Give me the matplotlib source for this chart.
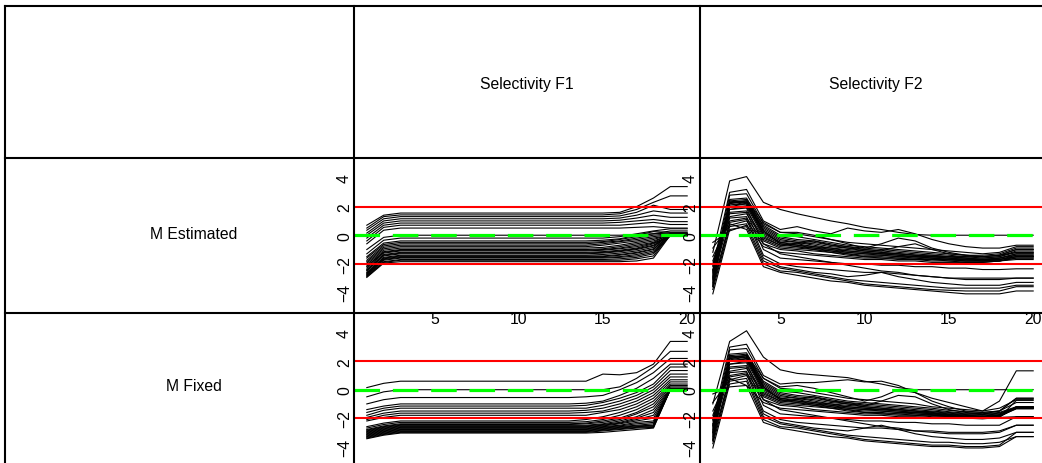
import matplotlib
matplotlib.use("Agg")
import matplotlib.pyplot as plt

plt.rcParams['font.family'] = ['Liberation Sans', 'DejaVu Sans']

W, H = 1042, 464

ages = list(range(1, 21))
col_titles = ["Selectivity F1", "Selectivity F2"]
row_titles = ["M Estimated", "M Fixed"]
y_ticks = [-4, -2, 0, 2, 4]
x_ticks = [5, 10, 15, 20]
ref_lines = [-2, 2]
zero_line = 0

# Selectivity F1: value at age 1, age 2, the flat level for ages 3-13, then ages 14-20
f1_est_start = [0.7, 0.5, 0.35, 0.15, 0.0, -0.2, -0.4, -0.6, -1.0,
                -1.3, -1.5, -1.6, -1.75, -1.85, -1.95, -2.05, -2.15, -2.2, -2.3, -2.4,
                -2.45, -2.5, -2.6, -2.65, -2.7, -2.75, -2.8, -2.85, -2.9, -2.95]
f1_est_knee = [1.4, 1.3, 1.15, 1.0, 0.85, 0.7, 0.55, 0.35, -0.15,
               -0.35, -0.55, -0.65, -0.75, -0.85, -0.95, -1.05, -1.15, -1.2, -1.25, -1.35,
               -1.4, -1.45, -1.55, -1.6, -1.65, -1.7, -1.75, -1.85, -1.9, -1.95]
f1_est_flat = [1.55, 1.42, 1.3, 1.15, 1.0, 0.85, 0.7, 0.5, 0.0,
               -0.2, -0.4, -0.5, -0.6, -0.7, -0.8, -0.9, -1.0, -1.05, -1.1, -1.2,
               -1.25, -1.3, -1.4, -1.45, -1.5, -1.55, -1.6, -1.7, -1.75, -1.85]
f1_est_tail = [
    [1.55, 1.55, 1.6, 2.0, 2.6, 3.4, 3.4],
    [1.42, 1.42, 1.5, 1.8, 2.3, 2.75, 2.75],
    [1.3, 1.3, 1.35, 1.6, 2.1, 1.8, 1.8],
    [1.15, 1.15, 1.2, 1.4, 1.7, 1.55, 1.55],
    [1.0, 1.0, 1.05, 1.2, 1.4, 1.25, 1.25],
    [0.85, 0.85, 0.9, 1.0, 1.1, 0.95, 0.95],
    [0.7, 0.7, 0.7, 0.8, 0.9, 0.75, 0.75],
    [0.5, 0.5, 0.5, 0.55, 0.6, 0.5, 0.5],
    [0.0, 0.0, 0.0, 0.05, 0.1, 0.3, 0.3],
    [-0.2, -0.2, -0.1, 0.1, 0.3, 0.45, 0.45],
    [-0.4, -0.35, -0.25, 0.0, 0.25, 0.2, 0.2],
    [-0.5, -0.45, -0.3, -0.1, 0.1, 0.15, 0.15],
    [-0.6, -0.5, -0.4, -0.2, 0.0, 0.1, 0.1],
    [-0.7, -0.6, -0.45, -0.3, -0.1, 0.05, 0.05],
    [-0.8, -0.7, -0.55, -0.4, -0.2, 0.0, 0.0],
    [-0.9, -0.85, -0.7, -0.5, -0.3, 0.05, 0.05],
    [-1.0, -0.95, -0.8, -0.6, -0.4, 0.0, 0.0],
    [-1.05, -1.0, -0.9, -0.7, -0.5, 0.1, 0.1],
    [-1.1, -1.05, -0.95, -0.8, -0.55, -0.05, -0.05],
    [-1.2, -1.15, -1.05, -0.9, -0.6, 0.0, 0.0],
    [-1.25, -1.2, -1.1, -0.95, -0.7, 0.05, 0.05],
    [-1.3, -1.25, -1.15, -1.0, -0.75, 0.0, 0.0],
    [-1.4, -1.35, -1.25, -1.1, -0.85, 0.1, 0.1],
    [-1.45, -1.45, -1.35, -1.2, -0.95, 0.0, 0.0],
    [-1.5, -1.5, -1.4, -1.25, -1.0, 0.05, 0.05],
    [-1.55, -1.55, -1.5, -1.35, -1.1, -0.05, -0.05],
    [-1.6, -1.6, -1.55, -1.45, -1.2, 0.0, 0.0],
    [-1.7, -1.7, -1.65, -1.55, -1.3, 0.0, 0.0],
    [-1.75, -1.75, -1.75, -1.65, -1.45, 0.05, 0.05],
    [-1.85, -1.85, -1.85, -1.8, -1.6, 0.0, 0.0],
]

f1_fix_start = [0.15, -0.5, -1.0, -1.4, -1.6, -1.8, -1.95, -2.1, -2.2, -2.6,
                -2.7, -2.8, -2.85, -2.9, -2.95, -3.0, -3.05, -3.1, -3.15, -3.2,
                -3.25, -3.3, -3.35, -3.4, -3.45]
f1_fix_knee = [0.45, -0.15, -0.7, -1.15, -1.3, -1.45, -1.65, -1.8, -1.95, -2.35,
               -2.45, -2.55, -2.6, -2.65, -2.7, -2.75, -2.8, -2.85, -2.9, -2.95,
               -3.0, -3.05, -3.1, -3.15, -3.2]
f1_fix_flat = [0.6, 0.0, -0.55, -1.0, -1.15, -1.3, -1.5, -1.65, -1.8, -2.2,
               -2.3, -2.4, -2.45, -2.5, -2.55, -2.6, -2.65, -2.7, -2.75, -2.8,
               -2.85, -2.9, -2.95, -3.0, -3.05]
f1_fix_tail = [
    [0.6, 1.1, 1.05, 1.2, 1.8, 3.4, 3.4],
    [0.0, 0.0, 0.2, 0.8, 1.6, 2.7, 2.7],
    [-0.5, -0.4, 0.0, 0.5, 1.2, 2.2, 2.2],
    [-0.95, -0.8, -0.4, 0.1, 0.8, 1.8, 1.8],
    [-1.1, -0.9, -0.6, -0.2, 0.4, 1.6, 1.6],
    [-1.3, -1.1, -0.8, -0.4, 0.2, 1.35, 1.35],
    [-1.45, -1.3, -1.0, -0.6, 0.0, 1.1, 1.1],
    [-1.6, -1.5, -1.2, -0.8, -0.2, 0.9, 0.9],
    [-1.8, -1.6, -1.4, -1.0, -0.4, 0.7, 0.7],
    [-2.1, -1.9, -1.6, -1.2, -0.6, 0.55, 0.55],
    [-2.25, -2.1, -1.8, -1.4, -0.8, 0.4, 0.4],
    [-2.35, -2.2, -2.0, -1.6, -1.0, 0.3, 0.3],
    [-2.4, -2.3, -2.1, -1.7, -1.2, 0.2, 0.2],
    [-2.5, -2.4, -2.2, -1.9, -1.4, 0.1, 0.1],
    [-2.55, -2.45, -2.3, -2.0, -1.6, 0.05, 0.05],
    [-2.6, -2.5, -2.35, -2.1, -1.8, 0.0, 0.0],
    [-2.65, -2.55, -2.4, -2.2, -2.0, 0.0, 0.0],
    [-2.7, -2.6, -2.5, -2.3, -2.2, 0.05, 0.05],
    [-2.75, -2.65, -2.55, -2.4, -2.3, -0.05, -0.05],
    [-2.8, -2.7, -2.6, -2.5, -2.4, 0.0, 0.0],
    [-2.85, -2.75, -2.65, -2.55, -2.5, 0.1, 0.1],
    [-2.9, -2.8, -2.7, -2.6, -2.55, 0.0, 0.0],
    [-2.95, -2.85, -2.75, -2.65, -2.6, 0.05, 0.05],
    [-3.0, -2.9, -2.8, -2.7, -2.65, 0.0, 0.0],
    [-3.05, -3.0, -2.9, -2.8, -2.7, 0.0, 0.0],
]

# Selectivity F2, ages 1-20 per line
f2_est = [
    [-1.2, 3.8, 4.1, 2.3, 1.8, 1.5, 1.25, 1.0, 0.8, 0.55, 0.4, 0.2, 0.05, 0.0, 0.0, 0.0, 0.0, 0.0, 0.0, 0.0],
    [-2.2, 3.0, 3.2, 1.0, 0.4, 0.6, 0.3, 0.1, 0.5, 0.3, 0.2, 0.4, 0.1, -0.3, -0.6, -0.8, -0.9, -0.9, -0.7, -0.7],
    [-2.6, 2.8, 2.9, 0.8, 0.2, 0.2, 0.0, -0.3, -0.6, -0.9, -0.6, -0.2, -0.4, -0.9, -1.2, -1.4, -1.5, -1.4, -1.0, -1.0],
    [-3.0, 2.4, 2.5, 0.9, 0.2, 0.1, -0.1, -0.3, -0.5, -0.6, -0.7, -0.8, -0.9, -1.0, -1.1, -1.2, -1.3, -1.2, -0.8, -0.8],
    [-2.8, 2.3, 2.4, 0.7, 0.0, -0.1, -0.3, -0.5, -0.7, -0.8, -0.9, -1.0, -1.1, -1.2, -1.3, -1.4, -1.4, -1.3, -0.9, -0.9],
    [-3.3, 2.5, 2.6, 0.6, -0.1, -0.3, -0.4, -0.6, -0.8, -0.9, -1.0, -1.1, -1.2, -1.3, -1.4, -1.5, -1.5, -1.4, -1.0, -1.0],
    [-2.5, 2.2, 2.4, 0.5, -0.2, -0.4, -0.5, -0.7, -0.8, -1.0, -1.1, -1.2, -1.3, -1.4, -1.5, -1.5, -1.6, -1.5, -1.1, -1.1],
    [-3.5, 2.3, 2.3, 0.4, -0.3, -0.5, -0.6, -0.8, -0.9, -1.1, -1.2, -1.3, -1.4, -1.4, -1.5, -1.6, -1.6, -1.5, -1.2, -1.2],
    [-2.9, 2.1, 2.3, 0.3, -0.4, -0.5, -0.7, -0.9, -1.0, -1.1, -1.2, -1.3, -1.4, -1.5, -1.5, -1.6, -1.7, -1.6, -1.3, -1.3],
    [-3.1, 2.4, 2.2, 0.2, -0.5, -0.6, -0.8, -0.9, -1.1, -1.2, -1.3, -1.3, -1.4, -1.5, -1.6, -1.6, -1.7, -1.6, -1.3, -1.3],
    [-2.7, 2.2, 2.1, 0.1, -0.5, -0.7, -0.8, -1.0, -1.1, -1.2, -1.3, -1.4, -1.5, -1.5, -1.6, -1.7, -1.7, -1.6, -1.4, -1.4],
    [-3.6, 2.3, 2.4, 0.3, -0.6, -0.7, -0.9, -1.0, -1.2, -1.3, -1.3, -1.4, -1.5, -1.6, -1.6, -1.7, -1.7, -1.7, -1.4, -1.4],
    [-2.4, 2.0, 2.2, 0.0, -0.6, -0.8, -0.9, -1.1, -1.2, -1.3, -1.4, -1.5, -1.5, -1.6, -1.7, -1.7, -1.8, -1.7, -1.5, -1.5],
    [-3.2, 1.8, 2.0, -0.1, -0.7, -0.8, -1.0, -1.1, -1.3, -1.4, -1.4, -1.5, -1.6, -1.6, -1.7, -1.8, -1.8, -1.7, -1.5, -1.5],
    [-1.8, 1.6, 1.7, -0.2, -0.7, -0.6, -0.4, -0.7, -0.9, -1.0, -1.1, -0.8, -0.6, -1.0, -1.3, -1.4, -1.5, -1.4, -1.2, -1.2],
    [-2.1, 1.3, 1.5, -0.3, -0.8, -0.9, -1.0, -1.2, -1.3, -1.5, -1.5, -1.6, -1.6, -1.7, -1.7, -1.8, -1.8, -1.8, -1.6, -1.6],
    [-1.5, 1.0, 1.2, -0.4, -0.9, -1.0, -1.1, -1.2, -1.4, -1.5, -1.6, -1.6, -1.7, -1.7, -1.8, -1.8, -1.8, -1.8, -1.5, -1.5],
    [-0.9, 0.7, 1.0, -0.6, -1.0, -1.1, -1.3, -1.4, -1.5, -1.6, -1.6, -1.7, -1.7, -1.8, -1.8, -1.9, -1.9, -1.8, -1.6, -1.6],
    [-0.5, 0.3, 0.7, -0.8, -1.2, -1.3, -1.4, -1.5, -1.6, -1.7, -1.7, -1.8, -1.8, -1.9, -1.9, -1.9, -1.9, -1.8, -1.7, -1.7],
    [-2.5, 1.5, 1.6, -1.0, -1.6, -1.7, -1.8, -1.9, -2.0, -2.0, -2.1, -2.1, -2.2, -2.2, -2.3, -2.3, -2.4, -2.4, -2.35, -2.35],
    [-3.0, 1.2, 1.3, -1.4, -2.0, -2.2, -2.3, -2.4, -2.5, -2.6, -2.6, -2.7, -2.8, -2.9, -3.0, -3.0, -3.0, -3.0, -3.0, -3.0],
    [-3.4, 0.9, 1.1, -1.6, -2.2, -2.4, -2.6, -2.7, -2.9, -2.8, -2.6, -2.9, -3.1, -3.3, -3.4, -3.5, -3.5, -3.5, -3.3, -3.3],
    [-3.8, 0.6, 0.8, -1.8, -2.3, -2.5, -2.7, -2.9, -3.1, -3.2, -3.3, -3.4, -3.5, -3.6, -3.7, -3.7, -3.7, -3.7, -3.5, -3.5],
    [-4.1, 0.4, 0.6, -2.0, -2.5, -2.6, -2.8, -3.0, -3.2, -3.4, -3.5, -3.6, -3.7, -3.8, -3.85, -3.9, -3.9, -3.9, -3.6, -3.6],
    [-3.6, 0.8, 0.4, -2.2, -2.6, -2.8, -3.0, -3.2, -3.3, -3.5, -3.6, -3.7, -3.8, -3.9, -4.0, -4.1, -4.1, -4.1, -3.9, -3.9],
    [-2.0, 1.8, 1.9, -0.6, -1.3, -1.5, -1.7, -1.9, -2.1, -2.3, -2.5, -2.6, -2.8, -2.9, -3.0, -3.1, -3.1, -3.1, -3.0, -3.0],
]

f2_fix = [
    [-1.0, 3.4, 4.15, 2.3, 1.4, 1.15, 1.05, 0.95, 0.85, 0.6, 0.4, 0.15, 0.0, 0.0, 0.0, 0.0, 0.0, 0.0, 0.0, 0.0],
    [-2.2, 3.0, 3.2, 1.0, 0.4, 0.5, 0.5, 0.6, 0.7, 0.55, 0.6, 0.3, -0.2, -0.6, -0.9, -1.2, -1.5, -0.8, 1.33, 1.33],
    [-2.6, 2.8, 2.9, 0.8, 0.2, 0.3, 0.1, -0.2, -0.5, -0.8, -0.5, 0.0, -0.2, -0.8, -1.2, -1.5, -1.6, -1.5, -0.6, -0.6],
    [-3.0, 2.4, 2.5, 0.8, 0.1, 0.0, -0.2, -0.4, -0.6, -0.7, -0.8, -0.9, -1.0, -1.2, -1.3, -1.4, -1.5, -1.3, -0.7, -0.7],
    [-2.8, 2.3, 2.4, 0.6, -0.1, -0.2, -0.4, -0.6, -0.8, -0.9, -1.0, -1.1, -1.2, -1.3, -1.45, -1.55, -1.6, -1.5, -0.9, -0.9],
    [-3.3, 2.5, 2.6, 0.5, -0.2, -0.4, -0.5, -0.7, -0.9, -1.0, -1.1, -1.2, -1.3, -1.4, -1.55, -1.65, -1.7, -1.6, -1.2, -1.2],
    [-2.5, 2.2, 2.4, 0.4, -0.3, -0.5, -0.6, -0.8, -0.9, -1.1, -1.2, -1.3, -1.4, -1.5, -1.6, -1.7, -1.75, -1.65, -1.25, -1.25],
    [-3.5, 2.3, 2.3, 0.3, -0.4, -0.6, -0.7, -0.9, -1.0, -1.2, -1.3, -1.4, -1.5, -1.55, -1.65, -1.75, -1.8, -1.7, -1.3, -1.3],
    [-2.9, 2.1, 2.3, 0.2, -0.5, -0.6, -0.8, -1.0, -1.1, -1.2, -1.3, -1.4, -1.5, -1.6, -1.7, -1.8, -1.85, -1.75, -1.3, -1.3],
    [-3.1, 2.4, 2.2, 0.1, -0.6, -0.7, -0.9, -1.0, -1.2, -1.3, -1.4, -1.4, -1.5, -1.65, -1.75, -1.8, -1.9, -1.8, -1.2, -1.2],
    [-2.7, 2.2, 2.1, 0.0, -0.6, -0.8, -0.9, -1.1, -1.2, -1.3, -1.4, -1.5, -1.6, -1.65, -1.75, -1.85, -1.9, -1.8, -1.25, -1.25],
    [-3.6, 2.3, 2.4, 0.2, -0.7, -0.8, -1.0, -1.1, -1.3, -1.4, -1.4, -1.5, -1.6, -1.7, -1.8, -1.9, -1.9, -1.85, -1.3, -1.3],
    [-2.4, 2.0, 2.2, -0.1, -0.7, -0.9, -1.0, -1.2, -1.3, -1.4, -1.5, -1.6, -1.6, -1.7, -1.8, -1.9, -1.95, -1.85, -1.35, -1.35],
    [-3.2, 1.8, 2.0, -0.2, -0.8, -0.9, -1.1, -1.2, -1.4, -1.5, -1.5, -1.6, -1.7, -1.75, -1.85, -1.95, -2.0, -1.9, -1.2, -1.2],
    [-1.8, 1.6, 1.7, -0.3, -0.8, -0.7, -0.5, -0.8, -1.0, -1.1, -0.8, -0.4, -0.5, -1.0, -1.4, -1.6, -1.7, -1.5, -0.6, -0.6],
    [-2.1, 1.3, 1.5, -0.4, -0.9, -1.0, -1.1, -1.3, -1.4, -1.6, -1.6, -1.7, -1.7, -1.8, -1.85, -1.9, -1.95, -1.9, -1.3, -1.3],
    [-1.5, 1.0, 1.2, -0.5, -1.0, -1.1, -1.2, -1.3, -1.5, -1.6, -1.7, -1.7, -1.8, -1.8, -1.9, -1.95, -2.0, -1.95, -1.9, -1.9],
    [-0.9, 0.7, 1.0, -0.7, -1.1, -1.2, -1.4, -1.5, -1.6, -1.7, -1.7, -1.8, -1.8, -1.9, -1.9, -2.0, -2.0, -1.9, -1.25, -1.25],
    [-0.3, 0.2, 0.3, -0.9, -1.3, -1.4, -1.5, -1.6, -1.7, -1.8, -1.8, -1.9, -1.9, -1.95, -2.0, -2.0, -2.05, -1.95, -0.75, -0.75],
    [-2.5, 1.5, 1.6, -1.1, -1.7, -1.8, -1.9, -2.0, -2.1, -2.2, -2.2, -2.3, -2.3, -2.4, -2.4, -2.5, -2.5, -2.5, -1.9, -1.9],
    [-3.0, 1.2, 1.3, -1.5, -2.1, -2.3, -2.4, -2.5, -2.6, -2.7, -2.7, -2.8, -2.9, -2.9, -3.0, -3.0, -3.0, -2.9, -2.5, -2.5],
    [-3.4, 0.9, 1.1, -1.7, -2.3, -2.5, -2.7, -2.8, -2.9, -2.7, -2.5, -2.8, -3.1, -3.3, -3.4, -3.5, -3.5, -3.4, -3.0, -3.0],
    [-3.8, 0.6, 0.8, -1.9, -2.4, -2.6, -2.8, -3.0, -3.2, -3.3, -3.4, -3.5, -3.6, -3.7, -3.7, -3.8, -3.8, -3.7, -3.3, -3.3],
    [-4.1, 0.4, 0.6, -2.1, -2.6, -2.7, -2.9, -3.1, -3.3, -3.5, -3.6, -3.7, -3.8, -3.9, -3.9, -4.0, -4.0, -3.9, -3.0, -3.0],
    [-3.6, 0.8, 0.3, -2.3, -2.7, -2.9, -3.1, -3.3, -3.4, -3.6, -3.7, -3.8, -3.9, -4.0, -4.0, -4.1, -4.1, -4.0, -3.3, -3.3],
    [-2.0, 1.8, 1.9, -0.7, -1.4, -1.6, -1.8, -2.0, -2.2, -2.4, -2.6, -2.7, -2.9, -3.0, -3.1, -3.1, -3.1, -3.0, -2.5, -2.5],
]


def f1_series(start, knee, flat, tail):
    out = []
    for s, k, f, t in zip(start, knee, flat, tail):
        out.append([s, k] + [f] * 11 + list(t))
    return out


panels = [
    [f1_series(f1_est_start, f1_est_knee, f1_est_flat, f1_est_tail), f2_est],
    [f1_series(f1_fix_start, f1_fix_knee, f1_fix_flat, f1_fix_tail), f2_fix],
]

# table grid in pixels
col_x = [5, 354, 700, 1046]
row_y = [7, 159, 314, 468]

fig = plt.figure(figsize=(W / 100, H / 100), dpi=100)


def px_axes(left, top, right, bottom):
    return fig.add_axes([left / W, 1 - bottom / H, (right - left) / W, (bottom - top) / H])


FS = 11.3
for r in range(2):
    for c in range(2):
        ax = px_axes(col_x[c + 1], row_y[r + 1], col_x[c + 2], row_y[r + 2])
        ax.set_facecolor('none')
        for ys in panels[r][c]:
            ax.plot(ages, ys, color='black', lw=0.8, zorder=2)
        for yr in ref_lines:
            ax.axhline(yr, color='#ff0000', lw=1.5, zorder=3)
        ax.axhline(zero_line, color='#00ff00', lw=2.3, dashes=(8, 4), zorder=4)
        ax.set_xlim(0.24, 20.76)
        ax.set_ylim(-5.44, 5.4)
        ax.set_xticks(x_ticks)
        ax.set_yticks(y_ticks)
        # the lower row's age axis falls below the picture edge
        ax.tick_params(axis='x', length=0, pad=-1.5, labelsize=FS, labelbottom=(r == 0))
        ax.tick_params(axis='y', length=0, pad=1.5, labelsize=FS, labelrotation=90)
        for lab in ax.get_yticklabels():
            lab.set_va('center')
        for sp in ax.spines.values():
            sp.set_visible(False)

# table lines and labels on top
grid = fig.add_axes([0, 0, 1, 1], zorder=10)
grid.set_xlim(0, W)
grid.set_ylim(H, 0)
grid.axis('off')
grid.set_facecolor('none')
for yy in row_y:
    grid.plot([col_x[0], col_x[-1]], [yy, yy], color='black', lw=1.5, clip_on=False)
for xx in col_x:
    grid.plot([xx, xx], [row_y[0], row_y[-1]], color='black', lw=1.5, clip_on=False)

title_x = [527, 876]
for t, xx in zip(col_titles, title_x):
    grid.text(xx, 84, t, ha='center', va='center', fontsize=FS)
label_y = [235, 387]
for t, yy in zip(row_titles, label_y):
    grid.text(194, yy, t, ha='center', va='center', fontsize=FS)

fig.savefig("out.png", dpi=100)
